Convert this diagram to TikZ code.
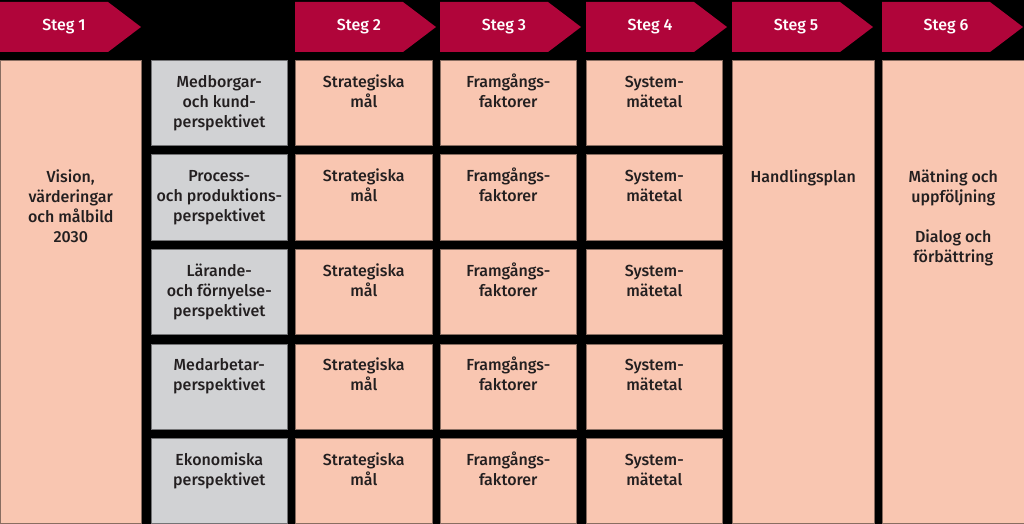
\documentclass[tikz,border=0pt]{standalone}
\usepackage{fontspec}
\setmainfont{Fira Sans}[UprightFont=* Medium, BoldFont=* SemiBold]
\usetikzlibrary{positioning}

\definecolor{stegred}{HTML}{B0053A}
\definecolor{peach}{HTML}{F9C6B1}
\definecolor{perspgray}{HTML}{D1D2D4}
\definecolor{ink}{HTML}{231F20}

\tikzset{
  steglabel/.style={text=white, font=\fontsize{12}{15}\selectfont, inner sep=0pt},
  cell/.style={fill=peach, draw=peach!55!black, line width=0.4pt, anchor=north west, inner sep=0pt},
  graycell/.style={cell, fill=perspgray, draw=perspgray!55!black},
  celltext/.style={text=ink, font=\fontsize{12}{15}\selectfont, align=center, inner sep=0pt},
}

\begin{document}
\begin{tikzpicture}[x=0.75pt,y=-0.75pt]
\useasboundingbox (0,0) rectangle (1024,524);
\fill[black] (0,0) rectangle (1024,524);
% step arrows
\foreach \n/\x in {1/0,2/295,3/440,4/586,5/732,6/882}{
  \fill[stegred] (\x,2) -- (\x+108,2) -- (\x+141,27) -- (\x+108,52) -- (\x,52) -- cycle;
  \node[steglabel] (steg\n) at (\x+64,27) {Steg \n};
}
% big columns
\node[cell, minimum width=141*0.75pt, minimum height=463*0.75pt] (vision) at (0,60) {};
\node[celltext, below=81.5pt of vision.north] (visiontext) {\strut Vision,\\värderingar\\och målbild\\2030};
\node[cell, minimum width=142*0.75pt, minimum height=463*0.75pt] (plan) at (732,60) {};
\node[celltext, below=81.5pt of plan.north] (plantext) {\strut Handlingsplan};
\node[cell, minimum width=142*0.75pt, minimum height=463*0.75pt] (matning) at (882,60) {};
\node[celltext, below=81.5pt of matning.north] (matningtext) {\strut Mätning och\\uppföljning\\[15pt]Dialog och\\förbättring};
% perspective rows
\foreach \r/\y/\txt in {1/60/{Medborgar-\\och kund-\\perspektivet},
    2/154.5/{Process-\\och produktions-\\perspektivet},
    3/249/{Lärande-\\och förnyelse-\\perspektivet},
    4/343.5/{Medarbetar-\\perspektivet},
    5/438/{Ekonomiska\\perspektivet}}{
  \node[graycell, minimum width=136*0.75pt, minimum height=85*0.75pt] (persp\r) at (151,\y) {};
  \node[celltext, below=9.75pt of persp\r.north] (persptext\r) {\strut\txt};
  \node[cell, minimum width=137*0.75pt, minimum height=85*0.75pt] (mal\r) at (295,\y) {};
  \node[celltext, below=9.75pt of mal\r.north] (maltext\r) {\strut Strategiska\\mål};
  \node[cell, minimum width=136*0.75pt, minimum height=85*0.75pt] (faktor\r) at (440,\y) {};
  \node[celltext, below=9.75pt of faktor\r.north] (faktortext\r) {\strut Framgångs-\\faktorer};
  \node[cell, minimum width=136*0.75pt, minimum height=85*0.75pt] (matetal\r) at (586,\y) {};
  \node[celltext, below=9.75pt of matetal\r.north] (matetaltext\r) {\strut System-\\mätetal};
}
\end{tikzpicture}
\end{document}
